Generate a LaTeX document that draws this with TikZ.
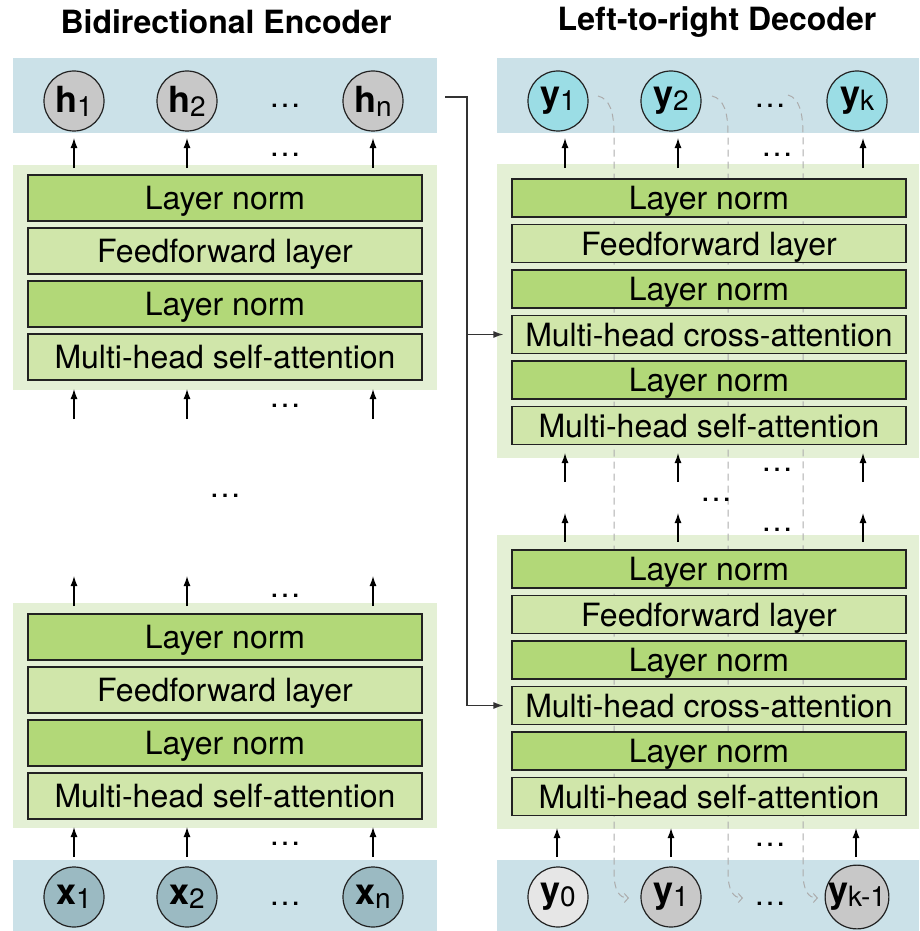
\documentclass[tikz,border=0pt]{standalone}
\usepackage{fontspec}
\setmainfont{TeX Gyre Heros}
\usetikzlibrary{arrows.meta}

\definecolor{band}{HTML}{CBE1E8}
\definecolor{stackbg}{HTML}{E4F0D5}
\definecolor{dkgreen}{HTML}{B2D878}
\definecolor{ltgreen}{HTML}{D0E6AA}
\definecolor{hgray}{HTML}{C8C8C8}
\definecolor{xblue}{HTML}{9BBAC2}
\definecolor{ycyan}{HTML}{9BDDE5}
\definecolor{yzero}{HTML}{E6E6E6}
\definecolor{edge}{HTML}{222222}

% token label: bold letter with a regular subscript
\newcommand\toklbl[2]{{\bfseries\fontsize{36}{36}\selectfont #1}\raisebox{-4pt}{\fontsize{28}{28}\selectfont #2}}

\begin{document}
\begin{tikzpicture}[x=1pt,y=-1pt,
  layerbox/.style={draw=edge, line width=1.2pt, minimum width=394pt, inner sep=0pt,
                   text height=23pt, text depth=0pt,
                   font=\fontsize{32}{36}\selectfont},
  encbox/.style={layerbox, minimum height=46pt},
  decbox/.style={layerbox, minimum height=38pt},
  normbox/.style={fill=dkgreen},
  opbox/.style={fill=ltgreen},
  tok/.style={circle, draw=edge, line width=1.2pt, minimum size=60pt, inner sep=0pt},
  arr/.style={-{Latex[length=10pt,width=7pt]}, line width=1.3pt, black},
  conn/.style={-{Latex[length=10pt,width=7pt]}, line width=1.3pt, black!80},
  dsh/.style={-{Straight Barb[length=4pt,width=9pt]}, line width=1pt, gray!65,
              dash pattern=on 7pt off 5pt},
  ell/.style={anchor=base, inner sep=0pt, font=\fontsize{32}{36}\selectfont},
  title/.style={font=\bfseries\fontsize{32}{36}\selectfont, inner sep=0pt}]

\useasboundingbox (0,0) rectangle (919,931);

% ---------- titles ----------
\node[title] (tenc) at (226,22) {Bidirectional Encoder};
\node[title] (tdec) at (717,22) {Left-to-right Decoder};

% ---------- backgrounds ----------
\fill[band] (13,58) rectangle (437,133);
\fill[band] (13,860) rectangle (437,931);
\fill[band] (497,58) rectangle (919,133);
\fill[band] (497,860) rectangle (919,931);
\fill[stackbg] (13,165) rectangle (437,390);
\fill[stackbg] (13,603) rectangle (437,828);
\fill[stackbg] (497,164) rectangle (919,458);
\fill[stackbg] (497,535) rectangle (919,829);

% ---------- autoregressive feedback (dashed, behind the layers) ----------
\coordinate (f1s) at (598,96);  \coordinate (f1e) at (629,898);
\coordinate (f2s) at (712,96);  \coordinate (f2e) at (743,898);
\coordinate (f3s) at (788,95);  \coordinate (f3e) at (818,898);
\draw[dsh] (f1s) .. controls (610,99) and (614,112) .. (614,135) -- (614,872)
           .. controls (614,890) and (619,898) .. (f1e);
\draw[dsh] (f2s) .. controls (724,99) and (728,112) .. (728,135) -- (728,872)
           .. controls (728,890) and (733,898) .. (f2e);
\draw[dsh] (f3s) .. controls (799,98) and (803,112) .. (803,135) -- (803,872)
           .. controls (803,890) and (808,898) .. (f3e);

% ---------- encoder blocks ----------
\node[encbox,normbox] (e1ln2) at (225,198) {Layer norm};
\node[encbox,opbox]   (e1ff)  at (225,251) {Feedforward layer};
\node[encbox,normbox] (e1ln1) at (225,304) {Layer norm};
\node[encbox,opbox]   (e1sa)  at (225,357) {Multi-head self-attention};

\node[encbox,normbox] (e2ln2) at (225,637) {Layer norm};
\node[encbox,opbox]   (e2ff)  at (225,690) {Feedforward layer};
\node[encbox,normbox] (e2ln1) at (225,743) {Layer norm};
\node[encbox,opbox]   (e2sa)  at (225,796) {Multi-head self-attention};

% ---------- decoder blocks ----------
\node[decbox,normbox] (d1ln3) at (709,198)   {Layer norm};
\node[decbox,opbox]   (d1ff)  at (709,243.5) {Feedforward layer};
\node[decbox,normbox] (d1ln2) at (709,289)   {Layer norm};
\node[decbox,opbox]   (d1ca)  at (709,334.5) {Multi-head cross-attention};
\node[decbox,normbox] (d1ln1) at (709,380)   {Layer norm};
\node[decbox,opbox]   (d1sa)  at (709,425.5) {Multi-head self-attention};

\node[decbox,normbox] (d2ln3) at (709,569)   {Layer norm};
\node[decbox,opbox]   (d2ff)  at (709,614.5) {Feedforward layer};
\node[decbox,normbox] (d2ln2) at (709,660)   {Layer norm};
\node[decbox,opbox]   (d2ca)  at (709,705.5) {Multi-head cross-attention};
\node[decbox,normbox] (d2ln1) at (709,751)   {Layer norm};
\node[decbox,opbox]   (d2sa)  at (709,796.5) {Multi-head self-attention};

% ---------- tokens ----------
\node[tok,fill=hgray] (h1) at (74,101)  {\toklbl{h}{1}};
\node[tok,fill=hgray] (h2) at (187,101) {\toklbl{h}{2}};
\node[tok,fill=hgray] (hn) at (373,101) {\toklbl{h}{n}};
\node[tok,fill=xblue] (x1) at (74,897)  {\toklbl{x}{1}};
\node[tok,fill=xblue] (x2) at (187,897) {\toklbl{x}{2}};
\node[tok,fill=xblue] (xn) at (373,897) {\toklbl{x}{n}};

\node[tok,fill=ycyan] (yo1) at (558,101) {\toklbl{y}{1}};
\node[tok,fill=ycyan] (yo2) at (671,101) {\toklbl{y}{2}};
\node[tok,fill=ycyan] (yok) at (857,101) {\toklbl{y}{k}};
\node[tok,fill=yzero] (yi0) at (558,897) {\toklbl{y}{0}};
\node[tok,fill=hgray] (yi1) at (671,897) {\toklbl{y}{1}};
\node[tok,fill=hgray] (yik) at (857,897) {\toklbl{y}{k-1}};

% ---------- ellipses ----------
\foreach \x/\y in {285/108, 285/157, 285/407, 225/497, 285/597, 285/845, 285/905,
                   770/108, 777/157, 777/471, 716/501, 777/531, 770/846, 770/905}
  \node[ell] at (\x,\y) {…};

% ---------- vertical flow arrows ----------
\foreach \x in {74,187,373} {
  \draw[arr] (\x,168) -- (\x,138);
  \draw[arr] (\x,419) -- (\x,389);
  \draw[arr] (\x,606) -- (\x,576);
  \draw[arr] (\x,857) -- (\x,827);
}
\foreach \x in {565,678,863} {
  \draw[arr] (\x,168) -- (\x,138);
  \draw[arr] (\x,482) -- (\x,453);
  \draw[arr] (\x,542) -- (\x,513);
}
\foreach \x in {557,671,856}
  \draw[arr] (\x,857) -- (\x,828);

% ---------- encoder output to cross-attention ----------
\coordinate (hout) at (445,97);
\coordinate (bus)  at (467,97);
\draw[line width=1.3pt, black!80] (hout) -- (bus) -- (bus |- d2ca.west);
\draw[conn, shorten >=8pt] (bus |- d1ca.west) -- (d1ca.west);
\draw[conn, shorten >=8pt] (bus |- d2ca.west) -- (d2ca.west);

\end{tikzpicture}
\end{document}
